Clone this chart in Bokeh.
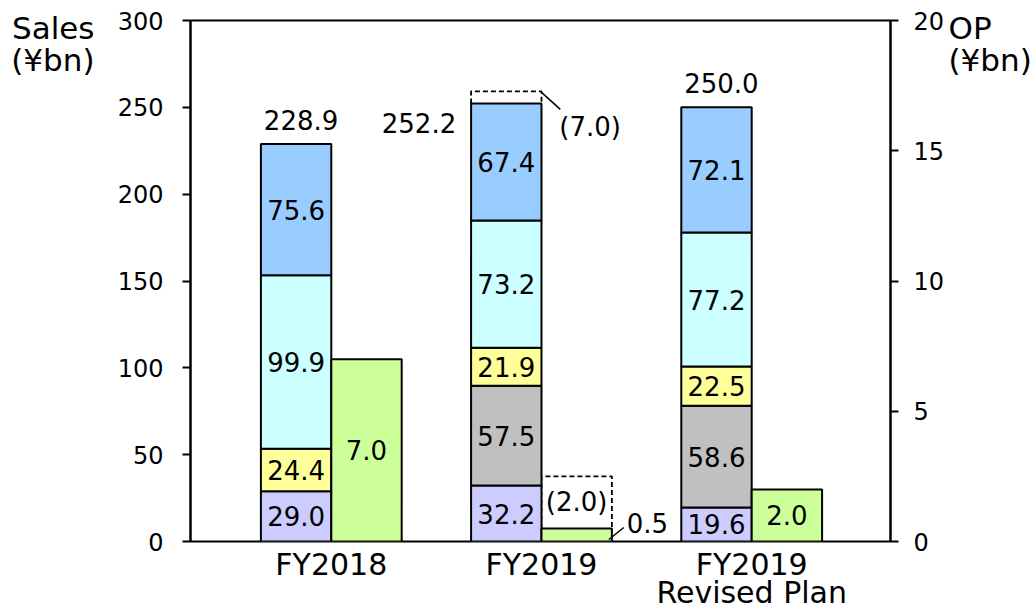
from bokeh.plotting import figure
from bokeh.models import Range1d, LinearAxis, FixedTicker, ColumnDataSource
from bokeh.core.properties import value
from bokeh.embed import file_html
from bokeh.resources import INLINE

# ---------------- data ----------------
categories = ["FY2018", "FY2019", "FY2019\nRevised Plan"]
cat_pos = [1, 2, 3]
seg_lavender = [29.0, 32.2, 19.6]
seg_gray = [0.0, 57.5, 58.6]
seg_yellow = [24.4, 21.9, 22.5]
seg_cyan = [99.9, 73.2, 77.2]
seg_blue = [75.6, 67.4, 72.1]
sales_total = [228.9, 252.2, 250.0]
op_values = [7.0, 0.5, 2.0]
sales_revision = [0.0, 7.0, 0.0]   # downward revision shown as dashed box
op_revision = [0.0, 2.0, 0.0]
left_ticks = [0, 50, 100, 150, 200, 250, 300]
right_ticks = [0, 5, 10, 15, 20]
left_title = ["Sales", "(¥bn)"]
right_title = ["OP", "(¥bn)"]

# ---------------- layout ----------------
W, H = 1034, 613
FL, FW, FT, FH = 190, 706, 20, 522
FB = FT + FH
PX_PER_CAT = 212.0
X0 = 1 - 142 / PX_PER_CAT
X1 = X0 + FW / PX_PER_CAT
BW = 71 / PX_PER_CAT
UY = 300.0 / FH   # sales units per px
UO = 20.0 / FH    # OP units per px
FONT = "DejaVu Sans"
seg_colors = ["#CCCCFF", "#C0C0C0", "#FFFF99", "#CCFFFF", "#99CCFF"]
op_color = "#CCFF99"

p = figure(width=W, height=H, output_backend="svg", toolbar_location=None,
           x_range=Range1d(X0, X1), y_range=Range1d(0, 300),
           min_border_left=FL, min_border_right=W - FL - FW,
           min_border_top=FT, min_border_bottom=H - FB,
           x_axis_location="below", y_axis_location="left")
p.extra_y_ranges = {"op": Range1d(0, 20)}
p.xgrid.visible = False
p.ygrid.visible = False
p.outline_line_color = "black"
p.outline_line_width = 2
p.background_fill_color = "white"
p.border_fill_color = "white"


def style_axis(ax, size, standoff, ticks=True):
    ax.minor_tick_line_color = None
    ax.major_tick_in = 0
    if ticks:
        ax.major_tick_out = 8
        ax.major_tick_line_width = 2
        ax.major_tick_line_color = "black"
        ax.axis_line_width = 2
        ax.axis_line_color = "black"
    else:
        ax.major_tick_out = 0
        ax.major_tick_line_color = None
        ax.axis_line_color = None
    ax.major_label_text_font = FONT
    ax.major_label_text_font_size = size
    ax.major_label_text_color = "black"
    ax.major_label_standoff = standoff


# left value axis
ya = p.yaxis[0]
ya.ticker = FixedTicker(ticks=left_ticks)
style_axis(ya, "24px", 19)

# left title (outer left axis carrying the title text)
title_l_ticks = [(FB - 27.3) * UY, (FB - 59.3) * UY]
tl = LinearAxis(ticker=FixedTicker(ticks=title_l_ticks),
                major_label_overrides={title_l_ticks[0]: left_title[0],
                                       title_l_ticks[1]: left_title[1]})
style_axis(tl, "31px", 20, ticks=False)
p.add_layout(tl, "left")

# right value axis
ra = LinearAxis(y_range_name="op", ticker=FixedTicker(ticks=right_ticks))
style_axis(ra, "24px", 15)
p.add_layout(ra, "right")

# right title axis
title_r_ticks = [(FB - 27.3) * UO, (FB - 59.3) * UO]
tr = LinearAxis(y_range_name="op", ticker=FixedTicker(ticks=title_r_ticks),
                major_label_overrides={title_r_ticks[0]: right_title[0],
                                       title_r_ticks[1]: right_title[1]})
style_axis(tr, "31px", 1, ticks=False)
p.add_layout(tr, "right")

# category axis
xa = p.xaxis[0]
xa.ticker = FixedTicker(ticks=cat_pos)
xa.major_label_overrides = {c: n for c, n in zip(cat_pos, categories)}
style_axis(xa, "30px", 5, ticks=False)
xa.major_label_text_line_height = 0.82

# dashed revision boxes (drawn first)
rev_xs, rev_ys = [], []
for c, tot, r in zip(cat_pos, sales_total, sales_revision):
    if r > 0:
        l, rr = c - BW, c
        rev_xs.append([l, l, rr, rr])
        rev_ys.append([tot, tot + r, tot + r, tot])
p.multi_line(xs=rev_xs, ys=rev_ys, line_color="black", line_width=1.8, line_dash="5 3")
op_xs, op_ys = [], []
for c, v, r in zip(cat_pos, op_values, op_revision):
    if r > 0:
        l, rr = c, c + BW
        op_xs.append([l, l, rr, rr])
        op_ys.append([v, v + r, v + r, v])
p.multi_line(xs=op_xs, ys=op_ys, line_color="black", line_width=1.8, line_dash="5 3",
             y_range_name="op")

# stacked sales bars
series = [seg_lavender, seg_gray, seg_yellow, seg_cyan, seg_blue]
bx, bb, bt, bc, lx, ly, lt = [], [], [], [], [], [], []
for i, c in enumerate(cat_pos):
    base = 0.0
    for s, col in zip(series, seg_colors):
        v = s[i]
        if v > 0:
            bx.append(c - BW / 2)
            bb.append(base)
            bt.append(base + v)
            bc.append(col)
            lx.append(c - BW / 2)
            ly.append(base + v / 2)
            lt.append(f"{v:.1f}")
        base += v
p.vbar(x="x", bottom="b", top="t", width=BW, fill_color="c", line_color="black",
       line_width=2, source=ColumnDataSource(dict(x=bx, b=bb, t=bt, c=bc)))

# OP bars
p.vbar(x=[c + BW / 2 for c in cat_pos], bottom=0, top=op_values, width=BW,
       fill_color=op_color, line_color="black", line_width=2, y_range_name="op")

TXT = dict(text_font=value(FONT), text_font_size="26px", text_color="black")

# segment labels
p.text(x="x", y="y", text="t", source=ColumnDataSource(dict(x=lx, y=ly, t=lt)),
       text_align="center", text_baseline="middle", **TXT)

# total labels
tx, ty, tt, ta = [], [], [], []
for c, tot, r in zip(cat_pos, sales_total, sales_revision):
    if r > 0:
        tx.append(c - BW - 15 / PX_PER_CAT)
        ty.append(tot - 20 * UY)
        ta.append("right")
    else:
        tx.append(c - BW / 2 + 5 / PX_PER_CAT)
        ty.append(tot + 24 * UY)
        ta.append("center")
    tt.append(f"{tot:.1f}")
p.text(x="x", y="y", text="t", text_align="a",
       source=ColumnDataSource(dict(x=tx, y=ty, t=tt, a=ta)),
       text_baseline="middle", **TXT)

# revision labels and leaders
for c, tot, r in zip(cat_pos, sales_total, sales_revision):
    if r > 0:
        p.segment(x0=[c], y0=[tot + r - 1 * UY], x1=[c + 19 / PX_PER_CAT], y1=[tot + r - 18 * UY],
                  line_color="black", line_width=1.5)
        p.text(x=[c + 18 / PX_PER_CAT], y=[tot + r - 36 * UY], text=[f"({r:.1f})"],
               text_align="left", text_baseline="middle", **TXT)

for c, v, r in zip(cat_pos, op_values, op_revision):
    if r > 0:
        p.segment(x0=[c + BW - 3 / PX_PER_CAT], y0=[2 * UO], x1=[c + BW + 12 / PX_PER_CAT],
                  y1=[14 * UO], line_color="black", line_width=1.5, y_range_name="op")
        p.text(x=[c + BW + 15 / PX_PER_CAT], y=[v + 5 * UO], text=[f"{v:.1f}"],
               text_align="left", text_baseline="middle", y_range_name="op", **TXT)
        p.text(x=[c + BW / 2], y=[v + r / 2], text=[f"({r:.1f})"],
               text_align="center", text_baseline="middle", y_range_name="op", **TXT)
    else:
        p.text(x=[c + BW / 2], y=[v / 2], text=[f"{v:.1f}"],
               text_align="center", text_baseline="middle", y_range_name="op", **TXT)

open("out.html", "w").write(file_html(p, INLINE))
